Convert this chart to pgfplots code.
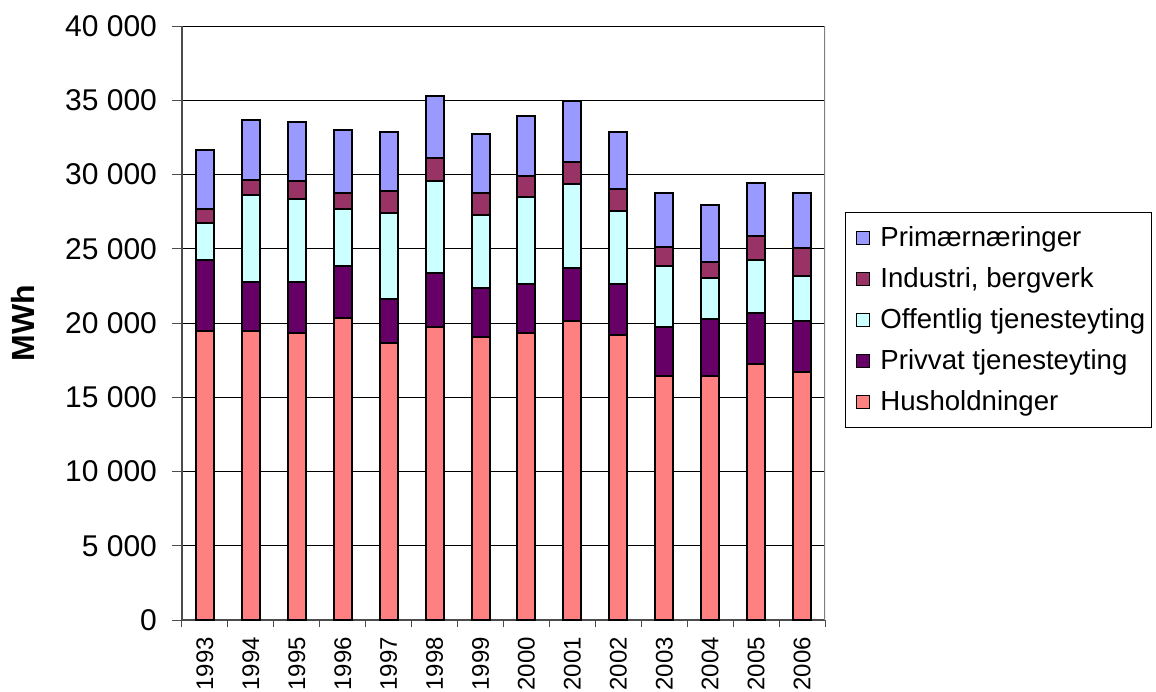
\documentclass[border=0pt]{standalone}
\usepackage{pgfplots}
\pgfplotsset{compat=1.18}
\usepackage{pgfplotstable}
\usepackage{fontspec}
\setmainfont{Liberation Sans}

\definecolor{cPrim}{HTML}{9999FF}
\definecolor{cInd}{HTML}{993366}
\definecolor{cOff}{HTML}{CCFFFF}
\definecolor{cPriv}{HTML}{660066}
\definecolor{cHus}{HTML}{FF8080}

% x  hus  priv  off  ind  prim
\pgfplotstableread{
x  hus    priv  off   ind   prim
0  19480  4750  2500  950   3990
1  19480  3310  5810  1040  4010
2  19320  3450  5590  1190  3960
3  20360  3510  3810  1060  4260
4  18670  2930  5830  1440  3990
5  19710  3630  6220  1580  4140
6  19050  3330  4890  1460  3990
7  19320  3330  5810  1460  3990
8  20130  3600  5630  1510  4080
9  19210  3450  4910  1420  3870
10 16420  3330  4120  1280  3580
11 16420  3850  2770  1060  3870
12 17210  3470  3580  1580  3580
13 16690  3450  3040  1850  3720
}\mwh

\begin{document}
\begin{tikzpicture}
\begin{axis}[
    width=321.5pt, height=297pt, scale only axis,
    ybar stacked, bar width=9pt,
    xmin=-0.5, xmax=13.5,
    ymin=0, ymax=40000,
    ytick={0,5000,...,40000},
    scaled y ticks=false,
    yticklabel style={
        /pgf/number format/fixed,
        /pgf/number format/1000 sep={\ },
        /pgf/number format/assume math mode=true,
        font=\fontsize{15}{18}\selectfont, xshift=-4pt},
    xtick={0,...,13},
    xticklabels={1993,1994,1995,1996,1997,1998,1999,2000,2001,2002,2003,2004,2005,2006},
    xticklabel style={rotate=90, anchor=east, font=\fontsize{12}{14}\selectfont},
    major x tick style={draw=none},
    minor xtick={-0.5,0.5,...,13.5},
    minor tick length=3.5pt,
    major tick length=5pt,
    tick align=outside,
    axis x line*=bottom, axis y line*=left,
    axis line style={draw=black!70, line width=0.6pt},
    tick style={draw=black!70, line width=0.5pt},
    ymajorgrids, grid style={black, line width=0.5pt},
    ylabel={\bfseries MWh},
    ylabel style={font=\fontsize{16}{18}\selectfont, at={(axis description cs:-0.247,0.5)},
        anchor=center},
    every axis plot/.append style={draw=black, line width=1pt},
    legend image code/.code={
        \draw[#1, draw=black, line width=0.5pt] (3pt,-3.25pt) rectangle (9.5pt,3.25pt);
        \path (0pt,0pt) (13.5pt,0pt);},
    reverse legend,
    legend cell align=left,
    legend style={at={(1.031,0.687)}, anchor=north west, draw=black, line width=0.5pt,
        font=\fontsize{13.8}{16}\selectfont, row sep=5pt, inner xsep=2pt, inner ysep=5pt,
        nodes={inner xsep=1pt}},
]
\addplot[fill=cHus] table[x=x, y=hus] {\mwh};
\addlegendentry{Husholdninger}
\addplot[fill=cPriv] table[x=x, y=priv] {\mwh};
\addlegendentry{Privvat tjenesteyting}
\addplot[fill=cOff] table[x=x, y=off] {\mwh};
\addlegendentry{Offentlig tjenesteyting}
\addplot[fill=cInd] table[x=x, y=ind] {\mwh};
\addlegendentry{Industri, bergverk}
\addplot[fill=cPrim] table[x=x, y=prim] {\mwh};
\addlegendentry{Primærnæringer}
\draw[gray, line width=0.6pt] (rel axis cs:1,0) -- (rel axis cs:1,1);
\coordinate (bl) at (rel axis cs:0,0);
\end{axis}
\pgfresetboundingbox
\path[use as bounding box] ([shift={(-91pt,-35.5pt)}]bl) rectangle ([shift={(487pt,310pt)}]bl);
\end{tikzpicture}
\end{document}
